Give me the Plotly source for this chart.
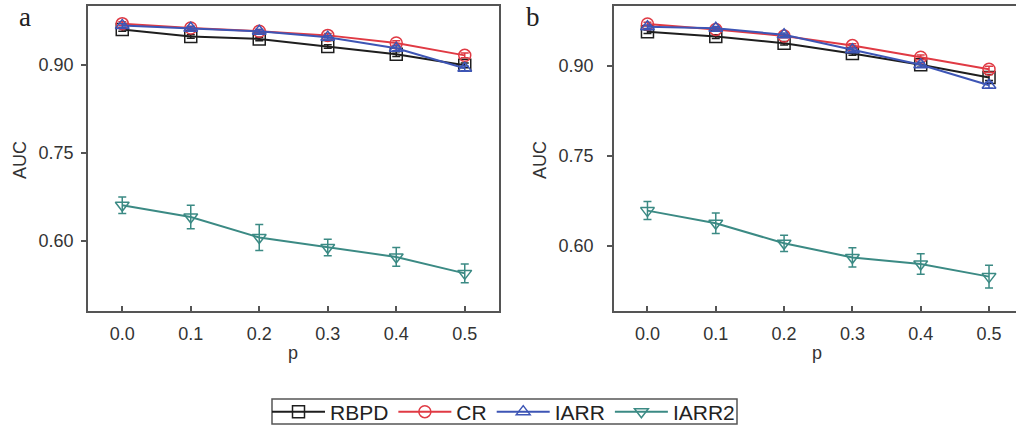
import plotly.graph_objects as go

p = [0.0, 0.1, 0.2, 0.3, 0.4, 0.5]
x_ticks = [0.0, 0.1, 0.2, 0.3, 0.4, 0.5]
x_tick_labels = ["0.0", "0.1", "0.2", "0.3", "0.4", "0.5"]
y_ticks = [0.60, 0.75, 0.90]
y_tick_labels = ["0.60", "0.75", "0.90"]

# Panel a
a_rbpd = [0.960, 0.948, 0.944, 0.931, 0.918, 0.899]
a_cr = [0.970, 0.9625, 0.957, 0.950, 0.937, 0.916]
a_iarr = [0.967, 0.962, 0.957, 0.947, 0.928, 0.894]
a_iarr2 = [0.661, 0.641, 0.606, 0.589, 0.573, 0.545]
a_iarr2_err = [0.014, 0.020, 0.022, 0.014, 0.016, 0.016]
a_small_err = [0.003, 0.003, 0.003, 0.003, 0.004, 0.004]

# Panel b
b_rbpd = [0.957, 0.949, 0.938, 0.921, 0.902, 0.881]
b_cr = [0.970, 0.961, 0.950, 0.934, 0.9145, 0.8945]
b_iarr = [0.9655, 0.963, 0.952, 0.927, 0.902, 0.868]
b_iarr2 = [0.659, 0.638, 0.6045, 0.581, 0.570, 0.549]
b_iarr2_err = [0.015, 0.017, 0.0135, 0.016, 0.017, 0.019]
b_small_err = [0.003, 0.003, 0.003, 0.003, 0.004, 0.005]

series_names = ["RBPD", "CR", "IARR", "IARR2"]
colors = ["#1e1e1e", "#e03a44", "#3d55b5", "#3b8a84"]
symbols = ["square-open", "circle-open", "triangle-up-open", "triangle-down-open"]

W, H = 1016, 427
fig = go.Figure()

panels = [
    ("x", "y", [a_rbpd, a_cr, a_iarr, a_iarr2], [a_small_err, a_small_err, a_small_err, a_iarr2_err], True),
    ("x2", "y2", [b_rbpd, b_cr, b_iarr, b_iarr2], [b_small_err, b_small_err, b_small_err, b_iarr2_err], False),
]
for xa, ya, data, errs, show in panels:
    for i, (name, vals, err) in enumerate(zip(series_names, data, errs)):
        fig.add_trace(go.Scatter(
            x=p, y=vals, name=name, xaxis=xa, yaxis=ya,
            mode="lines+markers",
            line=dict(color=colors[i], width=2),
            marker=dict(symbol=symbols[i], size=12, color=colors[i], line=dict(width=1.5, color=colors[i])),
            error_y=dict(type="data", array=err, visible=True, color=colors[i], thickness=1.5, width=4),
            showlegend=show,
        ))

font_tick = dict(family="Liberation Sans, Arial", size=18, color="#333333")
ydom = [1 - 311 / H, 1 - 6 / H]
axis_common = dict(showline=True, linecolor="#555555", linewidth=1.5, showgrid=False, zeroline=False,
                   tickfont=font_tick, tickcolor="#555555", ticklen=5, tickwidth=1.5)

fig.update_layout(
    width=W, height=H,
    margin=dict(l=0, r=0, t=0, b=0, autoexpand=False),
    paper_bgcolor="white", plot_bgcolor="white",
    xaxis=dict(domain=[88 / W, 499 / W], range=[-0.05, 0.55], tickvals=x_ticks, ticktext=x_tick_labels,
               ticks="inside", mirror=True, anchor="y", ticklabelstandoff=6, **axis_common),
    yaxis=dict(domain=ydom, range=[0.481, 1.0], tickvals=y_ticks, ticktext=y_tick_labels,
               ticks="outside", mirror=True, anchor="x", ticklabelstandoff=4, **axis_common),
    xaxis2=dict(domain=[614 / W, 1.0], range=[-0.049, 0.5395], tickvals=x_ticks, ticktext=x_tick_labels,
                ticks="inside", mirror=True, anchor="y2", ticklabelstandoff=6, **axis_common),
    yaxis2=dict(domain=ydom, range=[0.4917, 1.0], tickvals=y_ticks, ticktext=y_tick_labels,
                ticks="outside", mirror=False, anchor="x2", ticklabelstandoff=10, **axis_common),
    legend=dict(orientation="h", x=267 / W, y=1 - 412 / H, xanchor="left", yanchor="middle",
                borderwidth=0, bgcolor="rgba(0,0,0,0)",
                font=dict(family="Liberation Sans, Arial", size=21, color="#222222"),
                itemwidth=53, tracegroupgap=0),
    showlegend=True,
)

# legend frame
fig.add_shape(type="rect", xref="paper", yref="paper", x0=272 / W, x1=737 / W,
              y0=1 - 424 / H, y1=1 - 399 / H, line=dict(color="#555555", width=1.5), layer="above")

lab_font = dict(family="Liberation Sans, Arial", size=18, color="#333333")
serif = dict(family="Liberation Serif, Times New Roman", size=27, color="#222222")
annos = [
    dict(text="AUC", x=20 / W, y=1 - 160 / H, textangle=-90, font=lab_font, yanchor="middle"),
    dict(text="AUC", x=540 / W, y=1 - 160 / H, textangle=-90, font=lab_font, yanchor="middle"),
    dict(text="p", x=293 / W, y=1 - 353 / H, font=lab_font, yanchor="middle"),
    dict(text="p", x=817 / W, y=1 - 353 / H, font=lab_font, yanchor="middle"),
    dict(text="a", x=25 / W, y=1.0, font=serif, yanchor="top"),
    dict(text="b", x=533 / W, y=1.0, font=serif, yanchor="top"),
]
for a in annos:
    fig.add_annotation(xref="paper", yref="paper", showarrow=False, xanchor="center", **a)

fig.write_html("out.html", config={"displayModeBar": False})

# remove the default page margin so the figure sits at the window's top-left corner
with open("out.html", "r", encoding="utf-8") as f:
    html = f.read()
html = html.replace("<head>", "<head><style>html,body{margin:0;padding:0;overflow:hidden;}</style>", 1)
with open("out.html", "w", encoding="utf-8") as f:
    f.write(html)
